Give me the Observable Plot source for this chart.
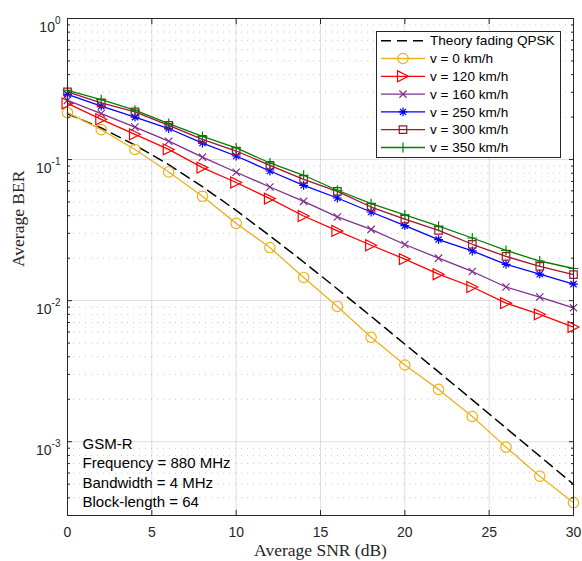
<!DOCTYPE html>
<html><head><meta charset="utf-8">
<script src="https://cdn.jsdelivr.net/npm/d3@7"></script>
<script src="https://cdn.jsdelivr.net/npm/@observablehq/plot@0.6"></script>
<style>
html,body{margin:0;padding:0;background:#fff;}
#chart{position:relative;width:582px;height:561px;}
</style></head><body><div id="chart"></div>
<script>
// ---- data ----
const snr = [0,2,4,6,8,10,12,14,16,18,20,22,24,26,28,30];
const theoryQPSK = [0.2113,0.1676,0.1269,0.0921,0.0643,0.0436,0.0288,0.0188,0.0121,0.00774,0.00492,0.003125,0.00198,0.00125,0.000791,0.000499];
const ber0   = [0.215,0.163,0.118,0.0817,0.0549,0.0353,0.0238,0.0146,0.0091,0.0055,0.0035,0.00235,0.00151,0.000916,0.00057,0.00037];
const ber120 = [0.250,0.193,0.151,0.118,0.0877,0.0688,0.0529,0.0398,0.0312,0.0247,0.0197,0.0154,0.0125,0.0096,0.0080,0.0065];
const ber160 = [0.263,0.212,0.170,0.135,0.104,0.0813,0.0639,0.0506,0.0392,0.0320,0.0250,0.0200,0.0161,0.0125,0.0106,0.0089];
const ber250 = [0.290,0.239,0.200,0.166,0.131,0.106,0.083,0.0657,0.0534,0.0425,0.034,0.0271,0.0225,0.0181,0.0154,0.0131];
const ber300 = [0.302,0.252,0.218,0.175,0.139,0.115,0.0911,0.0725,0.0596,0.0461,0.0379,0.0315,0.0251,0.0206,0.0175,0.0153];
const ber350 = [0.310,0.266,0.224,0.180,0.146,0.121,0.0946,0.0774,0.0606,0.0487,0.0405,0.0337,0.0278,0.0227,0.0191,0.0169];
const seriesNames = ["Theory fading QPSK","v = 0 km/h","v = 120 km/h","v = 160 km/h","v = 250 km/h","v = 300 km/h","v = 350 km/h"];
const xTicks = [0,5,10,15,20,25,30];
const xGrid = [5,10,15,20,25];
const yMajor = [1e-3,1e-2,1e-1,1];
const yMinor = [3e-4,4e-4,5e-4,6e-4,7e-4,8e-4,9e-4,2e-3,3e-3,4e-3,5e-3,6e-3,7e-3,8e-3,9e-3,2e-2,3e-2,4e-2,5e-2,6e-2,7e-2,8e-2,9e-2,0.2,0.3,0.4,0.5,0.6,0.7,0.8,0.9];
const annotationLines = ["GSM-R","Frequency = 880 MHz","Bandwidth = 4 MHz","Block-length = 64"];
const xLabel = "Average SNR (dB)";
const yLabel = "Average BER";

// ---- marker shapes ----
const rad = s => Math.sqrt(s/Math.PI);
const symTriRight = {draw(c,s){const r=rad(s)*1.05; c.moveTo(r,0); c.lineTo(-r,-r); c.lineTo(-r,r); c.closePath();}};
const symTimes = {draw(c,s){const h=rad(s)*0.7; c.moveTo(-h,-h); c.lineTo(h,h); c.moveTo(-h,h); c.lineTo(h,-h);}};
const symAst = {draw(c,s){const r=rad(s)*0.85, h=r*0.7; c.moveTo(-r,0); c.lineTo(r,0); c.moveTo(0,-r); c.lineTo(0,r); c.moveTo(-h,-h); c.lineTo(h,h); c.moveTo(-h,h); c.lineTo(h,-h);}};
const symSquare = {draw(c,s){const h=rad(s)*0.72; c.rect(-h,-h,2*h,2*h);}};
const symPlus = {draw(c,s){const r=rad(s)*0.95; c.moveTo(-r,0); c.lineTo(r,0); c.moveTo(0,-r); c.lineTo(0,r);}};
const symCircle = d3.symbolCircle;

const series = [
  {name: seriesNames[0], values: theoryQPSK, color: "#000000", dash: "10,6", symbol: null},
  {name: seriesNames[1], values: ber0,   color: "#EDB120", symbol: symCircle},
  {name: seriesNames[2], values: ber120, color: "#FF0000", symbol: symTriRight},
  {name: seriesNames[3], values: ber160, color: "#7E2F8E", symbol: symTimes},
  {name: seriesNames[4], values: ber250, color: "#0000FF", symbol: symAst},
  {name: seriesNames[5], values: ber300, color: "#A2142F", symbol: symSquare},
  {name: seriesNames[6], values: ber350, color: "#008000", symbol: symPlus}
];
const rows = [];
series.forEach(s => s.values.forEach((v,i) => rows.push({snr: snr[i], ber: v, name: s.name})));

const dataMarks = [];
series.forEach(s => {
  const d = rows.filter(r => r.name === s.name);
  dataMarks.push(Plot.line(d, {x:"snr", y:"ber", stroke: s.color, strokeWidth: s.symbol ? 1.3 : 1.5, strokeDasharray: s.dash || null}));
  if (s.symbol) dataMarks.push(Plot.dot(d, {x:"snr", y:"ber", symbol: s.symbol, r: 5.2, stroke: s.color, fill: "none", strokeWidth: 1.2}));
});

const axisCol = "#262626";
const chart = Plot.plot({
  width: 582, height: 561,
  marginLeft: 67, marginRight: 9, marginTop: 18, marginBottom: 46,
  style: {fontFamily: "'Liberation Sans', Arial, sans-serif", fontSize: "14px", color: axisCol, background: "white", overflow: "visible"},
  x: {domain: [0,30]},
  y: {type: "log", domain: [3e-4, 1]},
  marks: [
    Plot.gridX({ticks: xGrid, stroke: "#000", strokeOpacity: 0.13, strokeWidth: 1}),
    Plot.gridY({ticks: yMinor, stroke: "#000", strokeOpacity: 0.22, strokeDasharray: "1,5"}),
    Plot.gridY({ticks: yMajor, stroke: "#000", strokeOpacity: 0.13}),
    ...dataMarks,
    Plot.frame({stroke: axisCol, strokeWidth: 1}),
    // inward tick marks (no labels)
    Plot.axisX({ticks: xTicks, anchor: "bottom", tickSize: 5, dy: -5, label: null, text: null, stroke: axisCol}),
    Plot.axisX({ticks: xTicks, anchor: "top", tickSize: 5, dy: 5, label: null, text: null, stroke: axisCol}),
    Plot.axisY({ticks: yMajor, anchor: "left", tickSize: 5, dx: 5, label: null, text: null, stroke: axisCol}),
    Plot.axisY({ticks: yMinor, anchor: "left", tickSize: 3, dx: 3, label: null, text: null, stroke: axisCol}),
    Plot.axisY({ticks: yMajor, anchor: "right", tickSize: 5, dx: -5, label: null, text: null, stroke: axisCol}),
    Plot.axisY({ticks: yMinor, anchor: "right", tickSize: 3, dx: -3, label: null, text: null, stroke: axisCol}),
    // tick labels
    Plot.axisX({ticks: xTicks, anchor: "bottom", tickSize: 0, tickPadding: 12, label: null, tickFormat: d => String(d), fill: axisCol}),
    Plot.axisY({ticks: yMajor, anchor: "left", tickSize: 0, tickPadding: 7, label: null, tickFormat: d => String(Math.round(Math.log10(d))), fill: axisCol, ariaLabel: "ylabels"}),
    // axis titles
    Plot.text([xLabel], {frameAnchor: "bottom", dy: 35, lineAnchor: "middle", fontFamily: "'Liberation Serif', 'Times New Roman', serif", fontSize: 17.5, fill: axisCol}),
    Plot.text([yLabel], {frameAnchor: "left", dx: -49, rotate: -90, lineAnchor: "middle", fontFamily: "'Liberation Serif', 'Times New Roman', serif", fontSize: 17.5, fill: axisCol}),
    // annotation
    Plot.text([annotationLines.join("\n")], {frameAnchor: "top-left", dx: 15, dy: 417, textAnchor: "start", lineAnchor: "top", lineHeight: 1.28, fontSize: 15, fill: "#000"})
  ]
});
document.getElementById("chart").appendChild(chart);

// superscript exponents for the log tick labels
const svgNS = "http://www.w3.org/2000/svg";
d3.select(chart).selectAll('g[aria-label^="y-axis"] text, g[aria-label^="ylabels"] text').each(function() {
  const e = this.textContent.trim();
  if (!/^-?\d+$/.test(e)) return;
  this.textContent = "";
  this.setAttribute("dy", "0");
  const t1 = document.createElementNS(svgNS, "tspan");
  t1.setAttribute("dy", "9"); t1.textContent = "10";
  const t2 = document.createElementNS(svgNS, "tspan");
  t2.setAttribute("dy", "-8"); t2.setAttribute("font-size", "10"); t2.textContent = e;
  this.appendChild(t1); this.appendChild(t2);
});

// legend (inside the axes, top right)
const svg = d3.select(chart);
const lg = svg.append("g").attr("font-family", "'Liberation Sans', Arial, sans-serif").attr("font-size", 13.6).attr("text-anchor", "start");
lg.append("rect").attr("x", 376.5).attr("y", 31.5).attr("width", 184).attr("height", 126)
  .attr("fill", "white").attr("stroke", axisCol).attr("stroke-width", 1);
series.forEach((s, i) => {
  const cy = 40.7 + i * 17.8;
  lg.append("line").attr("x1", 381).attr("x2", 425).attr("y1", cy).attr("y2", cy)
    .attr("stroke", s.color).attr("stroke-width", s.symbol ? 1.3 : 1.5).attr("stroke-dasharray", s.dash || null);
  if (s.symbol) {
    lg.append("path").attr("d", d3.symbol().type(s.symbol).size(Math.PI * 5.2 * 5.2)())
      .attr("transform", `translate(403,${cy})`).attr("fill", "none").attr("stroke", s.color).attr("stroke-width", 1.2);
  }
  lg.append("text").attr("x", 430).attr("y", cy).attr("dy", "0.35em").attr("text-anchor", "start").attr("fill", "#000").text(s.name);
});
</script></body></html>
